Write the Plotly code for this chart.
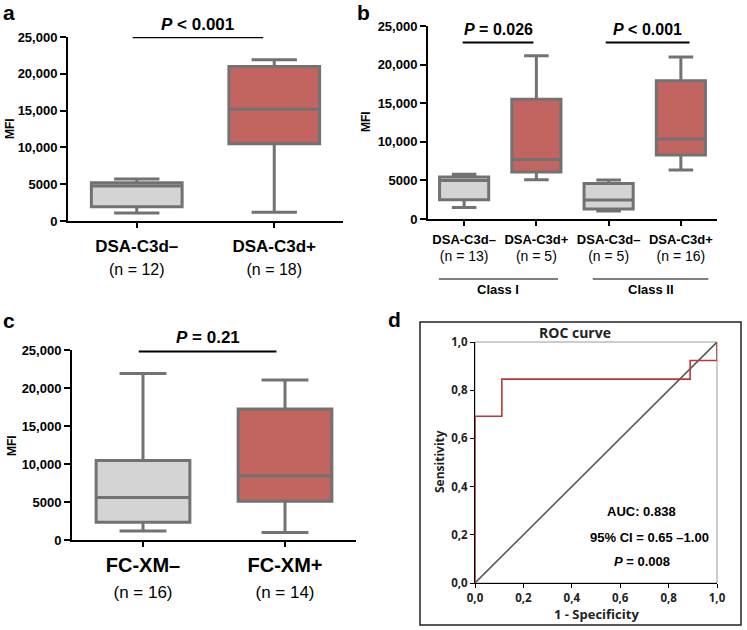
import plotly.graph_objects as go

# ---- panel a: MFI by DSA-C3d status
a_groups = ["DSA-C3d–", "DSA-C3d+"]
a_n = [12, 18]
a_q1 = [1950, 10500]
a_med = [4750, 15200]
a_q3 = [5200, 21000]
a_lo = [1100, 1200]
a_hi = [5700, 21900]
a_p = "<i>P</i> &lt; 0.001"

# ---- panel b: by HLA class
b_groups = ["DSA-C3d–", "DSA-C3d+", "DSA-C3d–", "DSA-C3d+"]
b_n = [13, 5, 5, 16]
b_q1 = [2500, 6100, 1300, 8300]
b_med = [5000, 7700, 2450, 10350]
b_q3 = [5450, 15500, 4600, 17900]
b_lo = [1500, 5100, 1050, 6350]
b_hi = [5800, 21150, 5050, 21000]
b_classes = ["Class I", "Class II"]
b_p = ["<i>P</i> = 0.026", "<i>P</i> &lt; 0.001"]

# ---- panel c: by flow cytometry crossmatch
c_groups = ["FC-XM–", "FC-XM+"]
c_n = [16, 14]
c_q1 = [2350, 5100]
c_med = [5600, 8450]
c_q3 = [10450, 17250]
c_lo = [1200, 1000]
c_hi = [21900, 21050]
c_p = "<i>P</i> = 0.21"

# ---- panel d: ROC curve
roc_fpr = [0.0, 0.0, 0.111, 0.889, 1.0]
roc_tpr = [0.0, 0.692, 0.846, 0.923, 1.0]
roc_notes = ["AUC: 0.838", "95% CI = 0.65 –1.00", "<i>P</i> = 0.008"]

mfi_ticks = [0, 5000, 10000, 15000, 20000, 25000]
mfi_labels = ["0", "5000", "10,000", "15,000", "20,000", "25,000"]
roc_ticks = [0, 0.2, 0.4, 0.6, 0.8, 1.0]
roc_labels = ["0,0", "0,2", "0,4", "0,6", "0,8", "1,0"]

GREY_FILL = "#d4d4d4"
RED_FILL = "#c26460"
EDGE = "#727272"
FONT = "Liberation Sans"
W, H = 747, 630


def px(x):
    return x / W


def py(y):
    return 1 - y / H


fig = go.Figure()


def add_boxes(pos, q1, med, q3, lo, hi, colors, ax, width):
    for i in range(len(pos)):
        fig.add_trace(go.Box(
            x=[pos[i]], q1=[q1[i]], median=[med[i]], q3=[q3[i]],
            lowerfence=[lo[i]], upperfence=[hi[i]],
            width=width, whiskerwidth=0.5, fillcolor=colors[i],
            line=dict(color=EDGE, width=3), boxpoints=False,
            xaxis="x" + ax, yaxis="y" + ax, hoverinfo="skip"))


a_pos = [1, 2]
b_pos = [1, 2, 3, 4]
c_pos = [1, 2]
add_boxes(a_pos, a_q1, a_med, a_q3, a_lo, a_hi, [GREY_FILL, RED_FILL], "", 0.66)
add_boxes(b_pos, b_q1, b_med, b_q3, b_lo, b_hi,
          [GREY_FILL, RED_FILL, GREY_FILL, RED_FILL], "2", 0.68)
add_boxes(c_pos, c_q1, c_med, c_q3, c_lo, c_hi, [GREY_FILL, RED_FILL], "3", 0.66)

# diagonal and ROC step curve
fig.add_trace(go.Scatter(x=[0, 1], y=[0, 1], mode="lines",
                         line=dict(color="#5a5a5a", width=1.6),
                         xaxis="x4", yaxis="y4", hoverinfo="skip"))
fig.add_trace(go.Scatter(x=roc_fpr, y=roc_tpr, mode="lines", line_shape="hv",
                         line=dict(color="#b8383a", width=1.6),
                         xaxis="x4", yaxis="y4", hoverinfo="skip"))


def cat_labels(groups, n, small):
    return ["<b>%s</b><br><span style='font-size:%dpx'>(n = %d)</span>" % (g, small, k)
            for g, k in zip(groups, n)]


def mfi_x(domain, rng, anchor, pos, text, size, standoff):
    return dict(domain=domain, range=rng, anchor=anchor, tickvals=pos, ticktext=text,
                showline=True, linecolor="black", linewidth=2, ticks="outside",
                ticklen=5, tickwidth=2, tickcolor="black", showgrid=False,
                zeroline=False, ticklabelstandoff=standoff, tickangle=0,
                automargin=False,
                tickfont=dict(family=FONT, size=size, color="black"))


def mfi_y(domain, anchor):
    return dict(domain=domain, range=[0, 25000], anchor=anchor, tickvals=mfi_ticks,
                ticktext=mfi_labels, showline=True, linecolor="black", linewidth=2,
                ticks="outside", ticklen=6, tickwidth=2, tickcolor="black",
                showgrid=False, zeroline=False, automargin=False,
                tickfont=dict(family=FONT, size=13, color="black", weight="bold"))


roc_axis = dict(range=[0, 1], tickvals=roc_ticks, ticktext=roc_labels,
                showline=True, linecolor="black", linewidth=1, ticks="outside",
                ticklen=4, tickwidth=1, tickcolor="black", showgrid=False,
                zeroline=False, automargin=False, tickangle=0,
                tickfont=dict(family="Open Sans", size=11.5, color="#222", weight="bold"))

fig.update_layout(
    width=W, height=H, margin=dict(l=0, r=0, t=0, b=0),
    paper_bgcolor="white", plot_bgcolor="white", showlegend=False,
    xaxis=mfi_x([px(68), px(343)], [0.5, 2.5], "y", a_pos,
                cat_labels(a_groups, a_n, 16), 17, 4),
    yaxis=mfi_y([py(221), py(37)], "x"),
    xaxis2=mfi_x([px(428), px(717)], [0.5, 4.5], "y2", b_pos,
                 cat_labels(b_groups, b_n, 14), 13, 2),
    yaxis2=mfi_y([py(219), py(26)], "x2"),
    xaxis3=mfi_x([px(72), px(356)], [0.5, 2.5], "y3", c_pos,
                 cat_labels(c_groups, c_n, 17), 20, 1),
    yaxis3=mfi_y([py(540), py(350)], "x3"),
    xaxis4=dict(roc_axis, domain=[px(475), px(717)], anchor="y4"),
    yaxis4=dict(roc_axis, domain=[py(583), py(342)], anchor="x4"),
)

shapes = []
ann = []


def label(xref, yref, x, y, text, size, family=FONT, color="black", angle=0):
    ann.append(dict(xref=xref, yref=yref, x=x, y=y, text=text, showarrow=False,
                    xanchor="center", yanchor="middle", textangle=angle,
                    font=dict(family=family, size=size, color=color, weight="bold")))


# significance bars (text placed in paper coords so it shows above the axis range)
def sig(xref, yref, x0, x1, y, ytext_px, text, size):
    shapes.append(dict(type="line", xref=xref, yref=yref, x0=x0, x1=x1, y0=y, y1=y,
                       line=dict(color="black", width=2)))
    label(xref, "paper", (x0 + x1) / 2, py(ytext_px), text, size)


sig("x", "y", a_pos[0] - 0.03, a_pos[1] - 0.08, 24950, 25, a_p, 17)
sig("x2", "y2", b_pos[0] - 0.02, b_pos[1] - 0.04, 22850, 29, b_p[0], 16)
sig("x2", "y2", b_pos[2] - 0.04, b_pos[3] + 0.12, 22850, 29, b_p[1], 16)
sig("x3", "y3", c_pos[0] - 0.03, c_pos[1] - 0.06, 24800, 337, c_p, 17)

# class brackets under panel b
for i, cls in enumerate(b_classes):
    x0 = b_pos[2 * i] - 0.35 + 0.13 * i
    x1 = b_pos[2 * i + 1] + 0.3 + 0.08 * i
    shapes.append(dict(type="line", xref="x2", yref="paper", x0=x0, x1=x1,
                       y0=py(279), y1=py(279), line=dict(color="black", width=1.2)))
    label("x2", "paper", (x0 + x1) / 2, py(290), cls, 13)

# MFI titles
for x, y in [(10, 129), (366, 122), (12, 445)]:
    label("paper", "paper", px(x), py(y), "MFI", 12, angle=-90)

# panel letters
for t, x, y in [("a", 9, 12), ("b", 363, 12), ("c", 9, 320), ("d", 394, 319)]:
    label("paper", "paper", px(x), py(y), t, 21)

# ROC panel frame, plot border and labels
shapes.append(dict(type="rect", xref="paper", yref="paper", x0=px(420), x1=px(741),
                   y0=py(625), y1=py(322), line=dict(color="#222", width=1.5)))
shapes.append(dict(type="rect", xref="x4 domain", yref="y4 domain", x0=0, x1=1,
                   y0=0, y1=1, layer="below", line=dict(color="#9a9a9a", width=1)))
label("paper", "paper", px(575), py(332), "ROC curve", 14, "Open Sans", "#222")
label("paper", "paper", px(440), py(462), "Sensitivity", 12, "Open Sans", "#222", -90)
label("paper", "paper", px(596), py(614), "1 - Specificity", 13, "Open Sans", "#222")
for t, x, y in zip(roc_notes, [0.69, 0.723, 0.69], [0.295, 0.187, 0.091]):
    label("x4", "y4", x, y, t, 13)

fig.update_layout(shapes=shapes, annotations=ann)
fig.write_html("out.html", config={"displayModeBar": False},
               post_script="document.body.style.margin = '0';")
